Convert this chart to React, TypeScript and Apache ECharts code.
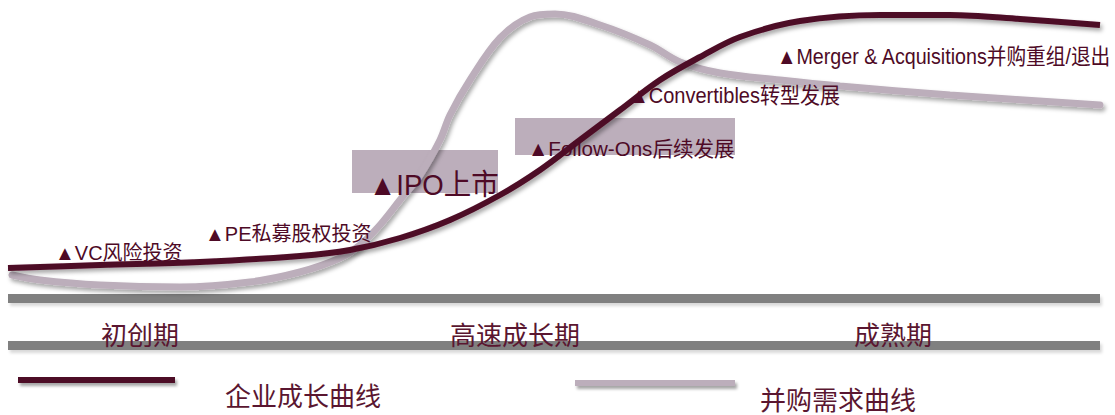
import React, { useEffect, useRef } from "react";
import * as echarts from "echarts";

// Conceptual curves: x position along lifecycle, y = level (0..415)
const growthX = [8, 100, 200, 300, 350, 400, 450, 500, 540, 580, 620, 660, 700, 740, 800, 880, 950, 1020, 1100];
const growthY = [147, 150, 153, 159, 165, 177, 195, 220, 245, 275, 305, 335, 358, 378, 394, 400, 400, 396, 390];
const demandX = [12, 40, 100, 180, 250, 300, 340, 360, 380, 400, 420, 440, 450, 470, 500, 530, 555, 600, 650, 680, 720, 780, 840, 950, 1100];
const demandY = [140, 135, 130, 128, 133, 143, 157, 170, 190, 215, 240, 275, 300, 335, 377, 398, 401, 390, 370, 353, 342, 335, 329, 320, 310];

const stages = ["初创期", "高速成长期", "成熟期"];
const legendNames = ["企业成长曲线", "并购需求曲线"];
const milestones = [
  "▲VC风险投资",
  "▲PE私募股权投资",
  "▲IPO上市",
  "▲Follow-Ons后续发展",
  "▲Convertibles转型发展",
  "▲Merger & Acquisitions并购重组/退出",
];

const DARK = "#4e0a26";
const LIGHT = "#bcaebb";
const GRAY = "#808080";
const TXT = "#5a1630";

export default function App() {
  const ref = useRef<HTMLDivElement>(null);
  useEffect(() => {
    document.body.style.margin = "0";
    const chart = echarts.init(ref.current!, null, { renderer: "svg" });
    const shadow = { shadowColor: "rgba(0,0,0,0.35)", shadowBlur: 4, shadowOffsetX: 2, shadowOffsetY: 3 };
    const latin = "'Liberation Sans', Arial, 'Noto Sans CJK SC', sans-serif";
    const cjk = "'Noto Sans CJK SC', sans-serif";
    const mText = (i: number, x: number, y: number, size: number, sx: number) => ({
      type: "text",
      z: 20,
      x,
      y,
      scaleX: sx,
      style: { text: milestones[i], fill: DARK, font: `${size}px ${latin}`, textVerticalAlign: "middle" },
    });
    const bar = (x: number, y: number, w: number, h: number, fill: string, sc: string) => ({
      type: "rect",
      z: 1,
      shape: { x, y, width: w, height: h },
      style: { fill, shadowColor: sc, shadowBlur: 3, shadowOffsetX: 2, shadowOffsetY: 3 },
    });
    chart.setOption({
      animation: false,
      grid: { left: 0, right: 0, top: 0, bottom: 0 },
      xAxis: { type: "value", min: 0, max: 1115, show: false },
      yAxis: { type: "value", min: 0, max: 415, show: false },
      series: [
        {
          type: "line",
          name: legendNames[1],
          data: demandX.map((x, i) => [x, demandY[i]]),
          smooth: 0.35,
          symbol: "none",
          z: 3,
          lineStyle: { color: LIGHT, width: 7, cap: "round", ...shadow },
        },
        {
          type: "line",
          name: legendNames[0],
          data: growthX.map((x, i) => [x, growthY[i]]),
          smooth: 0.35,
          symbol: "none",
          z: 4,
          lineStyle: { color: DARK, width: 6, ...shadow },
        },
      ],
      graphic: [
        { type: "rect", z: 1, shape: { x: 352, y: 150, width: 146, height: 43 }, style: { fill: LIGHT } },
        { type: "rect", z: 1, shape: { x: 515, y: 118, width: 220, height: 37 }, style: { fill: LIGHT } },
        bar(8, 294, 1092, 9, GRAY, "rgba(0,0,0,0.15)"),
        bar(8, 341, 1092, 9, GRAY, "rgba(0,0,0,0.15)"),
        bar(18, 377, 157, 6, DARK, "rgba(0,0,0,0.35)"),
        bar(575, 380, 160, 6, LIGHT, "rgba(0,0,0,0.35)"),
        mText(0, 55, 253, 20, 1),
        mText(1, 205, 234, 20, 1),
        mText(2, 369, 185, 29, 0.95),
        mText(3, 528, 148, 21, 0.98),
        mText(4, 629, 95, 22, 0.91),
        mText(5, 777, 56, 22, 0.895),
        { type: "text", z: 20, x: 140, y: 333, style: { text: stages[0], fill: TXT, font: `26px ${cjk}`, textAlign: "center", textVerticalAlign: "middle" } },
        { type: "text", z: 20, x: 515, y: 333, style: { text: stages[1], fill: TXT, font: `26px ${cjk}`, textAlign: "center", textVerticalAlign: "middle" } },
        { type: "text", z: 20, x: 893, y: 333, style: { text: stages[2], fill: TXT, font: `26px ${cjk}`, textAlign: "center", textVerticalAlign: "middle" } },
        { type: "text", z: 20, x: 225, y: 394, style: { text: legendNames[0], fill: TXT, font: `26px ${cjk}`, textVerticalAlign: "middle" } },
        { type: "text", z: 20, x: 760, y: 398, style: { text: legendNames[1], fill: TXT, font: `26px ${cjk}`, textVerticalAlign: "middle" } },
      ],
    });
    return () => chart.dispose();
  }, []);
  return <div ref={ref} style={{ width: 1115, height: 415 }} />;
}
